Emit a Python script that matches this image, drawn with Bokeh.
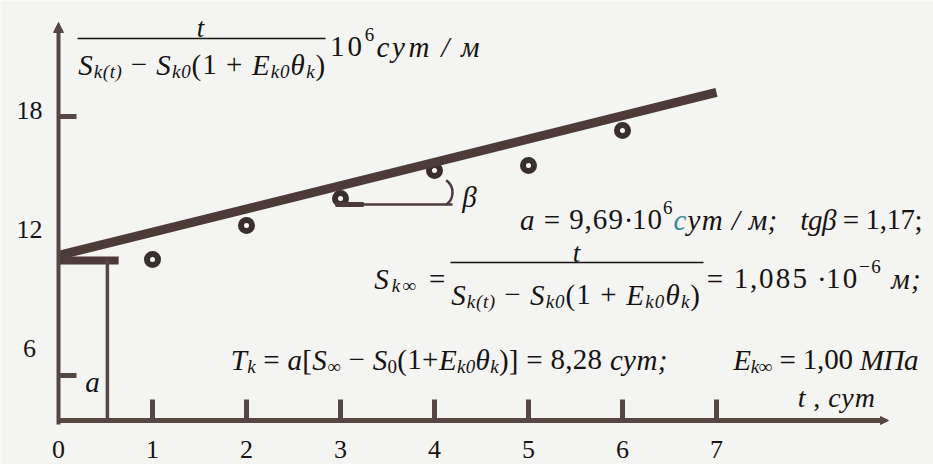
from bokeh.plotting import figure
from bokeh.models import Range1d, ColumnDataSource, Arrow, NormalHead
from bokeh.embed import file_html
from bokeh.resources import INLINE
from bokeh.core.properties import value

# ---------------- data ----------------
# measured ratio t / (S_k(t) - S_k0(1 + E_k0*theta_k)), 10^6 сут/м
t_days = [1, 2, 3, 4, 5, 6]
ratio = [9.49, 11.20, 12.55, 13.96, 14.21, 15.97]

# straight-line fit: y = a + tg(beta) * t
a_coef = 9.69
tg_beta = 1.17
fit_t = [0, 7]

x_ticks = [1, 2, 3, 4, 5, 6, 7]
x_tick_labels = ["0", "1", "2", "3", "4", "5", "6", "7"]
x_label_pos = [0, 1, 2, 3, 4, 5, 6, 7]
y_ticks = [6, 12, 18]
y_tick_labels = ["6", "12", "18"]

# ---------------- geometry / style ----------------
W, H = 933, 464
X0_PX, PX_PER_T = 58.0, 94.0      # screen x of t = 0, pixels per day
Y0_PX, PX_PER_V = 447.8, 19.9     # screen y of value 0, pixels per unit


def dx(px):
    return (px - X0_PX) / PX_PER_T


def dy(py):
    return (Y0_PX - py) / PX_PER_V


BG = "#f4f4f2"
INK = "#4c3b39"
AXIS = "#564644"
TXT = "#171313"
TEAL = "#2f8f9a"
SERIF = "Liberation Serif"

base_v = dy(420)          # level of the horizontal axis
t_drop = 0.52             # vertical guide from the start of the fit
beta_t0, beta_v = dx(335), dy(204)
beta_r = 117 / PX_PER_T

p = figure(width=W, height=H, x_range=Range1d(dx(0), dx(W)), y_range=Range1d(dy(H), dy(0)),
           x_axis_type=None, y_axis_type=None, output_backend="svg", toolbar_location=None,
           min_border=0, outline_line_color=None,
           background_fill_color=BG, border_fill_color=BG)
p.grid.visible = False

# axes with arrow heads
p.add_layout(Arrow(x_start=0, y_start=dy(424), x_end=0, y_end=dy(22),
                   line_width=4, line_color=AXIS,
                   end=NormalHead(size=10, fill_color=AXIS, line_color=AXIS, line_width=1)))
p.add_layout(Arrow(x_start=0, y_start=base_v, x_end=dx(888), y_end=base_v,
                   line_width=5, line_color=AXIS,
                   end=NormalHead(size=8, fill_color=AXIS, line_color=AXIS, line_width=1)))

# x ticks (upward stubs)
p.segment(x0=x_ticks, y0=[base_v] * len(x_ticks), x1=x_ticks,
          y1=[base_v + 21 / PX_PER_V] * len(x_ticks),
          line_width=5, line_color=AXIS, line_cap="butt")

# small marks on the y axis
p.segment(x0=[0, 0], y0=[dy(116), dy(375)], x1=[dx(76), dx(76)], y1=[dy(116), dy(375)],
          line_width=5, line_color=AXIS, line_cap="butt")

# tick labels
p.text(x=x_label_pos, y=[base_v] * len(x_label_pos), text=x_tick_labels,
       y_offset=29, text_align="center", text_baseline="middle",
       text_font=value(SERIF), text_font_size="26px", text_font_style="normal",
       text_color=TXT)
p.text(x=[0] * len(y_ticks), y=y_ticks, text=y_tick_labels,
       x_offset=-29, y_offset=20, text_align="center", text_baseline="middle",
       text_font=value(SERIF), text_font_size="26px", text_font_style="normal",
       text_color=TXT)

# experimental points (drawn under the fitted line)
p.scatter(t_days, ratio, size=11, line_width=6, fill_color="#fbfbfa", line_color="#3b2f2e")

# fitted line and the intercept guide
fit_y = [a_coef + tg_beta * t for t in fit_t]
p.line(fit_t, fit_y, line_width=9, line_color=INK, line_cap="butt")
p.segment(x0=[0], y0=[a_coef - 0.25], x1=[t_drop + 0.12], y1=[a_coef - 0.25],
          line_width=8, line_color=INK, line_cap="butt")
p.segment(x0=[t_drop], y0=[a_coef - 0.25], x1=[t_drop], y1=[base_v],
          line_width=3.5, line_color=AXIS)

# angle beta: horizontal leg and a small arc mark
p.segment(x0=[beta_t0], y0=[beta_v], x1=[beta_t0 + beta_r], y1=[beta_v],
          line_width=2.5, line_color=INK)
p.segment(x0=[beta_t0], y0=[beta_v], x1=[beta_t0 + 0.3], y1=[beta_v],
          line_width=5, line_color=INK, line_cap="butt")
p.arc(x=[beta_t0 + beta_r - 15 / PX_PER_T], y=[beta_v + 12 / PX_PER_V], radius=15 / PX_PER_T,
      start_angle=-0.95, end_angle=0.95, line_width=2.5, line_color=INK)

# ---------------- formula text ----------------
REG = {' ': 250, '(': 333, ')': 333, '[': 333, ']': 333, '+': 564, ',': 250, '-': 333,
       '.': 250, '/': 278, ';': 278, '=': 564, '·': 250, '−': 564, 'a': 444, 'c': 444,
       'g': 500, 'k': 500, 'm': 778, 't': 278, 'y': 500, 'S': 556, 'E': 611, 'T': 611,
       'θ': 500, 'β': 500, '∞': 713, 'с': 444, 'у': 500, 'т': 437, 'м': 609, 'М': 889,
       'П': 722, 'а': 444}
ITA = {' ': 250, '(': 333, ')': 333, '[': 389, ']': 389, '+': 675, ',': 250, '/': 278,
       ';': 333, '=': 675, '·': 250, '−': 675, 'a': 500, 'c': 444, 'g': 500, 'k': 444,
       'm': 722, 't': 278, 'y': 444, 'S': 500, 'E': 611, 'T': 556, 'θ': 500, 'β': 500,
       '∞': 713, 'с': 444, 'у': 444, 'т': 722, 'м': 610, 'М': 833, 'П': 722, 'а': 500}

# glyphs grouped by (style, size) so every text renderer has fixed font settings
groups = {}


def formula(runs, left_px, baseline_px, size, right_px=None, center=False):
    """Lay out a formula glyph by glyph; runs are (text, mode[, colour]),
    mode: 'i' italic / 'r' upright, '_' subscript, '^' superscript."""
    items, cum = [], 0.0
    for run in runs:
        s, mode = run[0], run[1]
        col = run[2] if len(run) > 2 else TXT
        italic = "i" in mode
        small = ("_" in mode) or ("^" in mode)
        fs = int(round(size * (0.64 if small else 1.0)))
        yo = 0.24 * size if "_" in mode else (-0.42 * size if "^" in mode else 0.0)
        for ch in s:
            w = (ITA if italic else REG).get(ch, 500) * fs / 1000.0
            items.append((cum, w, ch, fs, "italic" if italic else "normal", yo, col))
            cum += w
    scale = 1.0
    if right_px is not None:
        scale = (right_px - left_px) / cum
    elif center:
        left_px = left_px - cum / 2.0
    for off, w, ch, fs, st, yo, col in items:
        if ch == " ":
            continue
        g = groups.setdefault((st, fs), dict(x=[], y=[], text=[], xo=[], yo=[], col=[]))
        # stretch the spacing, not the glyphs: centre each glyph in its scaled cell
        g["x"].append(dx(left_px))
        g["y"].append(dy(baseline_px))
        g["text"].append(ch)
        g["xo"].append(off * scale + (scale - 1.0) * w / 2.0)
        g["yo"].append(yo)
        g["col"].append(col)


denominator = [("S", "i"), ("k(t)", "i_"), (" − ", "r"), ("S", "i"), ("k0", "i_"),
               ("(", "r"), ("1 + ", "r"), ("E", "i"), ("k0", "i_"), ("θ", "i"),
               ("k", "i_"), (")", "r")]

# y-axis title
formula([("t", "i")], 200, 27, 27, center=True)
formula(denominator, 77, 64, 29, right_px=325)
formula([("10", "r"), ("6", "r^"), ("сут", "i"), (" / ", "i"), ("м", "i")], 328, 46, 29,
        right_px=480)

# results
formula([("a", "i"), (" = ", "r"), ("9,69·10", "r"), ("6", "r^"), ("с", "i", TEAL),
         ("ут / м;", "i")], 519, 219, 29, right_px=777)
formula([("tgβ", "i"), (" = ", "r"), ("1,17;", "r")], 800, 219, 29, right_px=922)

formula([("S", "i"), ("k∞", "i_"), (" =", "r")], 372, 278, 29, right_px=447)
formula([("t", "i")], 576, 252, 27, center=True)
formula(denominator, 450, 294, 29, right_px=700)
formula([("= 1,085 ·10", "r"), ("−6", "r^"), (" м;", "i")], 705, 278, 29, right_px=921)

formula([("T", "i"), ("k", "i_"), (" = ", "r"), ("a", "i"), ("[", "r"), ("S", "i"),
         ("∞", "r_"), (" − ", "r"), ("S", "i"), ("0", "r_"), ("(", "r"), ("1+", "r"),
         ("E", "i"), ("k0", "i_"), ("θ", "i"), ("k", "i_"), (")]", "r"),
         (" = 8,28 ", "r"), ("сут;", "i")], 230, 359, 29, right_px=667)
formula([("E", "i"), ("k∞", "i_"), (" = 1,00 ", "r"), ("МПа", "i")], 733, 359, 29,
        right_px=918)

formula([("t", "i"), (" , ", "r"), ("сут", "i")], 797, 397, 28, right_px=875)
formula([("β", "i")], 469, 196, 29, center=True)
formula([("a", "i")], 92, 381, 29, center=True)

for (st, fs), g in groups.items():
    p.text(x="x", y="y", text="text", x_offset="xo", y_offset="yo", text_color="col",
           text_font=value(SERIF), text_font_size=f"{fs}px", text_font_style=st,
           text_align="left", text_baseline="alphabetic", source=ColumnDataSource(g))

# fraction bars
p.segment(x0=[dx(77), dx(450)], y0=[dy(38), dy(262)], x1=[dx(325), dx(703)],
          y1=[dy(38), dy(262)], line_width=1.6, line_color=TXT)

with open("out.html", "w") as f:
    f.write(file_html(p, INLINE))
